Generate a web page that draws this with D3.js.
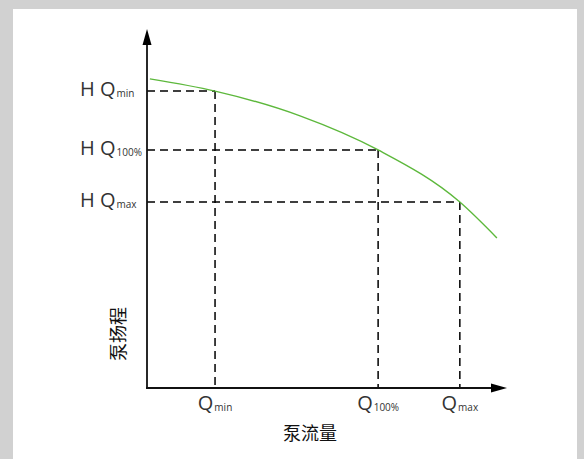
<!DOCTYPE html>
<html><head><meta charset="utf-8">
<script src="https://cdn.jsdelivr.net/npm/d3@7"></script>
<style>
html,body{margin:0;padding:0;background:#d1d1d1;}
svg{display:block;}
</style></head>
<body>
<svg id="c" width="584" height="459"></svg>
<script>
// Data (arbitrary units)
const curveFlow = [0.08, 1.89, 4.25, 6.42, 8.69, 9.72];
const curveHead = [8.61, 8.27, 7.58, 6.63, 5.18, 4.18];
const opFlow = [1.89, 6.42, 8.69];
const opHead = [8.27, 6.63, 5.18];
const opSubs = ["min", "100%", "max"];
const xTitle = "泵流量";
const yTitle = "泵扬程";

const svg = d3.select("#c");
svg.append("rect").attr("x",13).attr("y",9).attr("width",564).attr("height",450).attr("fill","#fff");

const x = d3.scaleLinear().domain([0,10]).range([147,507]);
const y = d3.scaleLinear().domain([0,10]).range([388,29]);
const ink = "#111";

// dashed guides
const g = svg.append("g").attr("stroke","#000").attr("stroke-width",1.5).attr("stroke-dasharray","8,5").attr("fill","none");
opFlow.forEach((f,i)=>{
  g.append("line").attr("x1",x(0)).attr("x2",x(f)).attr("y1",y(opHead[i])).attr("y2",y(opHead[i]));
  g.append("line").attr("x1",x(f)).attr("x2",x(f)).attr("y1",y(opHead[i])).attr("y2",y(0));
});

// curve
const pts = curveFlow.map((f,i)=>[f,curveHead[i]]);
svg.append("path").datum(pts)
  .attr("d", d3.line().x(d=>x(d[0])).y(d=>y(d[1])).curve(d3.curveMonotoneX))
  .attr("fill","none").attr("stroke","#5db83c").attr("stroke-width",1.4);

// axes
svg.append("line").attr("x1",x(0)).attr("x2",x(0)).attr("y1",y(0)+1).attr("y2",y(10)+12).attr("stroke",ink).attr("stroke-width",1.8);
svg.append("line").attr("x1",x(0)-1).attr("x2",x(10)-12).attr("y1",y(0)).attr("y2",y(0)).attr("stroke",ink).attr("stroke-width",1.8);
// arrowheads
svg.append("path").attr("d",`M${x(0)},${y(10)} L${x(0)-4.5},${y(10)+16} L${x(0)+4.5},${y(10)+16} Z`).attr("fill","#000");
svg.append("path").attr("d",`M${x(10)},${y(0)} L${x(10)-16},${y(0)-4.5} L${x(10)-16},${y(0)+4.5} Z`).attr("fill","#000");

const font = "'Open Sans', 'Noto Sans', sans-serif";
// x tick labels
opFlow.forEach((f,i)=>{
  const t = svg.append("text").attr("x",x(f)).attr("y",410).attr("text-anchor","middle")
    .attr("font-family",font).attr("fill","#333");
  t.append("tspan").attr("font-size",20).text("Q");
  t.append("tspan").attr("font-size",10).attr("dx",1).attr("dy",1).text(opSubs[i]);
});
// y tick labels
opHead.forEach((h,i)=>{
  const t = svg.append("text").attr("x",80).attr("y",y(h)+5).attr("text-anchor","start")
    .attr("font-family",font).attr("fill","#333");
  t.append("tspan").attr("font-size",20).text("H Q");
  t.append("tspan").attr("font-size",10).attr("dx",1).attr("dy",1).text(opSubs[i]);
});

// titles
const cjk = "'Noto Sans CJK SC', sans-serif";
svg.append("text").attr("x",310).attr("y",440).attr("text-anchor","middle")
  .attr("font-family",cjk).attr("font-size",18).attr("fill","#111").text(xTitle);
svg.append("text").attr("transform","translate(125,334) rotate(-90)").attr("text-anchor","middle")
  .attr("font-family",cjk).attr("font-size",18).attr("fill","#111").text(yTitle);
</script>
</body></html>
